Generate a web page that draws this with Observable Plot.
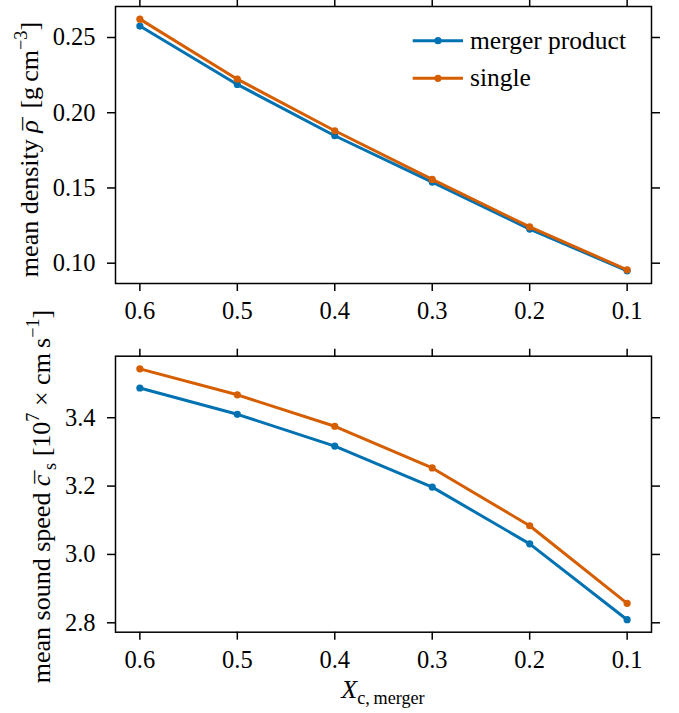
<!DOCTYPE html>
<html>
<head>
<meta charset="utf-8">
<script src="https://cdn.jsdelivr.net/npm/d3@7"></script>
<script src="https://cdn.jsdelivr.net/npm/@observablehq/plot@0.6"></script>
<style>
  html, body { margin: 0; padding: 0; background: white; }
  #chart svg { display: block; overflow: visible; }
</style>
</head>
<body>
<div id="chart"></div>
<script>
// ---- data ----
const xc = [0.6, 0.5, 0.4, 0.3, 0.2, 0.1];
const seriesNames = ["merger product", "single"];
const seriesColors = ["#0072B2", "#D55E00"];
const rhoMerger = [0.2576, 0.2188, 0.1847, 0.1539, 0.1227, 0.0949];
const rhoSingle = [0.2622, 0.2223, 0.1880, 0.1557, 0.1241, 0.0956];
const csMerger = [3.487, 3.410, 3.317, 3.197, 3.031, 2.809];
const csSingle = [3.543, 3.467, 3.375, 3.253, 3.084, 2.857];
const xTicks = [0.6, 0.5, 0.4, 0.3, 0.2, 0.1];
const rhoTicks = [0.10, 0.15, 0.20, 0.25];
const csTicks = [2.8, 3.0, 3.2, 3.4];

const FONT = "Liberation Serif, Times New Roman, serif";
const FS = 24.5;   // tick labels
const LEG = 25.5;  // legend
const LFS = 26;    // axis titles

function rows(a, b) {
  return [
    ...xc.map((x, i) => ({x, y: a[i], series: seriesNames[0]})),
    ...xc.map((x, i) => ({x, y: b[i], series: seriesNames[1]}))
  ];
}

function panel({data, yDomain, yTicks, yFormat, height, marginTop, marginBottom}) {
  const common = {tickSize: 8, strokeWidth: 1.5, label: null, fontSize: FS};
  const marks = [
    Plot.axisX({anchor: "bottom", ticks: xTicks, tickFormat: ".1f", tickPadding: 10.5, ...common}),
    Plot.axisX({anchor: "top", ticks: xTicks, tickFormat: () => "", ...common}),
    Plot.axisY({anchor: "left", ticks: yTicks, tickFormat: yFormat, tickPadding: 12, ...common}),
    Plot.axisY({anchor: "right", ticks: yTicks, tickFormat: () => "", ...common})
  ];
  for (const s of seriesNames) {
    const d = data.filter(r => r.series === s);
    marks.push(Plot.line(d, {x: "x", y: "y", stroke: "series", strokeWidth: 3}));
    marks.push(Plot.dot(d, {x: "x", y: "y", fill: "series", r: 3.6}));
  }
  marks.push(Plot.frame({stroke: "black", strokeWidth: 1.5}));
  const svg = Plot.plot({
    width: 679,
    height,
    marginTop,
    marginBottom,
    marginLeft: 115,
    marginRight: 28,
    x: {domain: [0.625, 0.075]},
    y: {domain: yDomain},
    color: {domain: seriesNames, range: seriesColors},
    style: {background: "white", color: "black", overflow: "visible"},
    marks
  });
  d3.select(svg).attr("font-family", FONT).attr("font-size", FS);
  d3.select(svg).selectAll("g").attr("font-family", FONT);
  return svg;
}

// rich text helper: parts = [{t, it, sup, sub, dx, lift}]
function rich(textSel, parts, fs) {
  let shift = 0;
  for (const p of parts) {
    const ts = textSel.append("tspan").attr("font-family", FONT).text(p.t);
    let target = 0;
    if (p.sup) target = -0.42 * fs;
    if (p.sub) target = 0.22 * fs;
    if (p.lift != null) target = p.lift * fs;
    if (target !== shift) { ts.attr("dy", target - shift); shift = target; }
    if (p.dx) ts.attr("dx", p.dx * fs);
    if (p.sup || p.sub) ts.attr("font-size", (0.7 * fs) + "px");
    if (p.it) ts.attr("font-style", "italic");
  }
}

function label(svg, transform, parts) {
  const t = d3.select(svg).append("text")
    .attr("transform", transform)
    .attr("text-anchor", "middle").attr("font-family", FONT).attr("font-size", LFS + "px").attr("fill", "black");
  rich(t, parts, LFS);
  return t;
}

const topPanel = panel({
  data: rows(rhoMerger, rhoSingle),
  yDomain: [0.0865, 0.2706], yTicks: rhoTicks, yFormat: ".2f",
  height: 330, marginTop: 6, marginBottom: 47
});
const bottomPanel = panel({
  data: rows(csMerger, csSingle),
  yDomain: [2.7725, 3.580], yTicks: csTicks, yFormat: ".1f",
  height: 383, marginTop: 25.7, marginBottom: 81.3
});

document.getElementById("chart").append(topPanel, bottomPanel);

// y label, top
label(topPanel, "translate(38,149.5) rotate(-90)", [
  {t: "mean density "},
  {t: "\u03C1", it: true},
  {t: "\u00AF", dx: -0.38, lift: 0.1},
  {t: " [g\u2009cm", dx: 0.08},
  {t: "\u22123", sup: true},
  {t: "]"}
]);
// y label, bottom
label(bottomPanel, "translate(50,166.5) rotate(-90)", [
  {t: "mean sound speed "},
  {t: "c", it: true},
  {t: "\u00AF", dx: -0.34, lift: 0.1},
  {t: "s", sub: true, dx: 0.02},
  {t: " [10"},
  {t: "7", sup: true},
  {t: " \u00D7 cm\u2009s"},
  {t: "\u22121", sup: true},
  {t: "]"}
]);
// x label
label(bottomPanel, "translate(383,368)", [{t: "X", it: true}, {t: "c,\u2009merger", sub: true}]);

// legend (top panel)
{
  const g = d3.select(topPanel).append("g").attr("font-family", FONT).attr("font-size", LEG + "px");
  const ys = [40.7, 78.3];
  seriesNames.forEach((s, i) => {
    g.append("line").attr("x1", 412.7).attr("x2", 463).attr("y1", ys[i]).attr("y2", ys[i])
      .attr("stroke", seriesColors[i]).attr("stroke-width", 3);
    g.append("circle").attr("cx", 438).attr("cy", ys[i]).attr("r", 3.6).attr("fill", seriesColors[i]);
    g.append("text").attr("x", 470).attr("y", ys[i]).attr("dy", "0.32em")
      .attr("text-anchor", "start").attr("font-family", FONT).attr("fill", "black").text(s);
  });
}
</script>
</body>
</html>
